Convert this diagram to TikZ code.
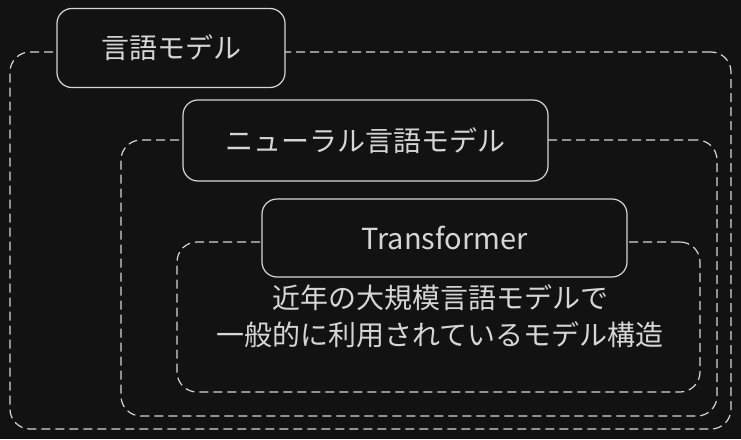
\documentclass[tikz,border=0pt]{standalone}
\usepackage{fontspec}
\newfontfamily\jp{Noto Sans CJK JP}
\definecolor{bg}{HTML}{121212}
\definecolor{fg}{HTML}{D6D6D6}
\begin{document}
\begin{tikzpicture}[x=1pt,y=-1pt,
  dashbox/.style={draw=fg, line width=1.2pt, dash pattern=on 9pt off 5pt, rounded corners=20pt, inner sep=0pt},
  labelbox/.style={draw=fg, fill=bg, line width=1.2pt, rounded corners=15pt, inner sep=0pt, text=fg, font=\jp\fontsize{28}{32}\selectfont},
  bodytext/.style={text=fg, align=center, font=\jp\fontsize{28}{37}\selectfont, inner sep=0pt}]
\fill[bg] (0,0) rectangle (741,439);
\useasboundingbox (0,0) rectangle (741,439);
\node[dashbox, minimum width=721pt, minimum height=377pt] (outer) at (370.5,240.5) {};
\node[dashbox, minimum width=596pt, minimum height=276pt] (middle) at (419,278) {};
\node[dashbox, minimum width=523pt, minimum height=150pt] (inner) at (438.5,317) {};
\node[labelbox, minimum width=228pt, minimum height=79pt] (lm) at (171,48) {言語モデル};
\node[labelbox, minimum width=365pt, minimum height=81pt] (nlm) at (365.5,140.5) {ニューラル言語モデル};
\node[labelbox, minimum width=365pt, minimum height=78pt, font=\jp\fontsize{29}{32}\selectfont] (tf) at (444.5,238) {Transformer};
\node[bodytext] (desc) at (440,316) {近年の大規模言語モデルで\\一般的に利用されているモデル構造};
\end{tikzpicture}
\end{document}
